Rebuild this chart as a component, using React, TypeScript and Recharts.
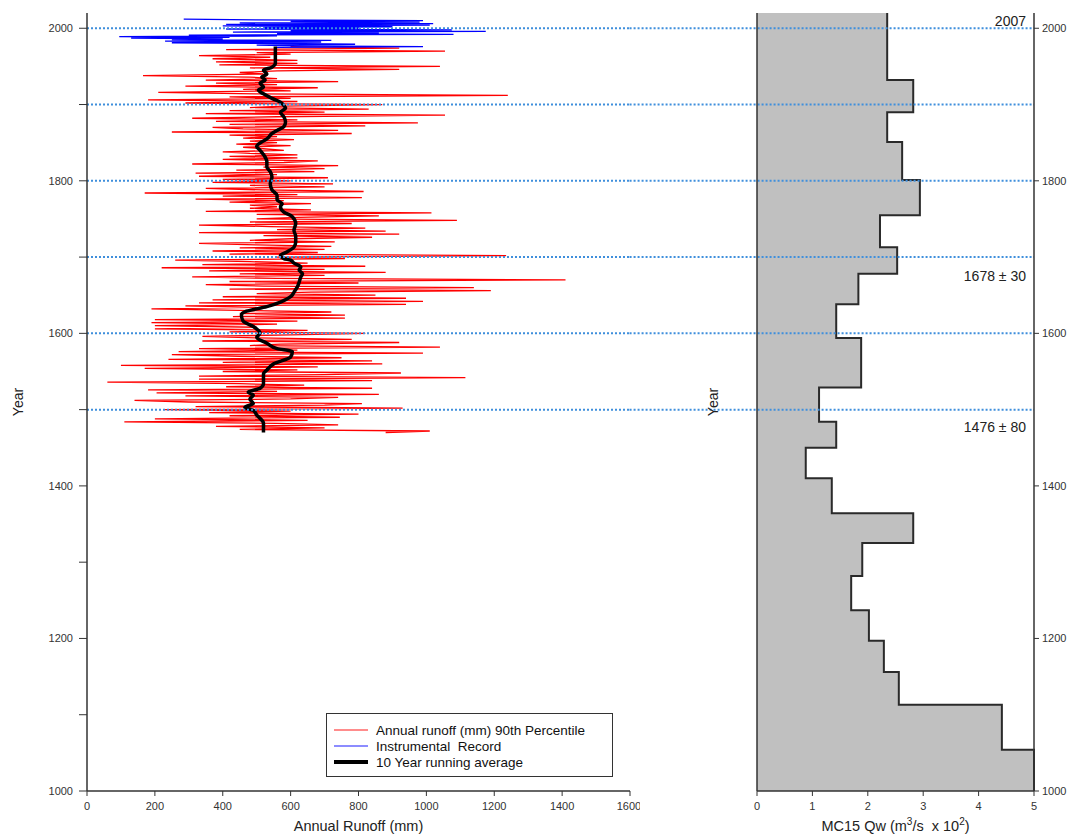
import {
    Area,
    ComposedChart,
    Legend,
    Line,
    ReferenceDot,
    ReferenceLine,
    XAxis,
    YAxis,
} from 'recharts'

const FONT = 'Arial, "Liberation Sans", Helvetica, sans-serif'
const AXIS = '#333'
const DOTTED = '#3f8fdc'

// annual runoff (mm), 90th percentile reconstruction, every 2nd year from 1470
const RED_START = 1470
const redRunoff = [
    880, 1010, 450, 700, 380, 740, 560, 110, 650, 200,
    745, 420, 800, 360, 600, 230, 930, 320, 700, 810,
    300, 140, 600, 740, 290, 860, 205, 560, 180, 840,
    410, 640, 450, 60, 840, 330, 1115, 330, 700, 925,
    400, 620, 170, 680, 100, 870, 400, 840, 240, 750,
    450, 250, 990, 270, 620, 330, 1040, 480, 570, 920,
    340, 780, 500, 340, 600,
    820, 420, 650, 200, 500, 200, 560, 190, 620, 200,
    760, 430, 760, 450, 720, 450, 190, 500, 290, 940,
    330, 990, 370, 940, 400, 850, 500, 660, 1190, 420,
    1140, 520, 350, 800, 420, 1410, 560, 310, 700, 450,
    880, 360, 700, 220, 820, 340, 650, 480, 260, 760,
    560, 1235, 420, 680, 370, 700, 450, 720, 500, 330,
    730, 480, 600, 840, 520,
    920, 330, 880, 560, 820, 540, 330, 780, 480, 1090,
    500, 620, 860, 500, 1015, 350, 660, 480, 560, 480,
    660, 420, 580, 320, 810, 400, 620, 170, 815, 520,
    350, 700, 480, 725, 370, 600, 400, 710, 330, 560,
    320, 670, 440, 700, 520, 740, 310, 580, 680, 400,
    620, 420, 620, 480, 400, 580, 520, 460, 600, 440,
    560, 480,
    610, 460, 560, 420, 780, 250, 740, 460, 370, 820,
    420, 975, 380, 620, 310, 560, 1055, 350, 700, 420,
    830, 480, 580, 870, 290, 620, 180, 600, 420, 1240,
    500, 210, 600, 460, 680, 290, 560, 380, 740, 350,
    560, 480, 165, 520, 450, 560, 920, 480, 1040, 390,
    620, 380, 620, 370, 540, 330, 600, 500, 1055, 410,
    920, 600,
]

// instrumental record, yearly from 1975
const BLUE_START = 1975
const blueRunoff = [
    560, 990, 620, 500, 790, 560, 250, 690, 230, 720,
    250, 400, 130, 420, 95, 560, 300, 1080, 560, 860,
    430, 1175, 600, 1075, 410, 800, 520, 900, 400, 1010,
    410, 1020, 450, 980, 600, 990, 500, 285,
]

// 10 year running average
const avgYears = [
    1470, 1482, 1493, 1499, 1503, 1508, 1514, 1519, 1523, 1528,
    1534, 1547, 1552, 1560, 1569, 1576, 1580, 1587, 1595, 1600,
    1609, 1616, 1624, 1629, 1635, 1641, 1648, 1654, 1661, 1667,
    1674, 1678, 1683, 1687, 1692, 1696, 1698, 1702, 1707, 1713,
    1720, 1727, 1735, 1744, 1753, 1759, 1766, 1770, 1775, 1781,
    1788, 1796, 1805, 1812, 1818, 1825, 1831, 1840, 1845, 1851,
    1855, 1862, 1866, 1871, 1877, 1884, 1890, 1895, 1899, 1903,
    1908, 1914, 1919, 1923, 1928, 1932, 1936, 1940, 1945, 1949,
    1954, 1958, 1965, 1976,
]
const avgRunoff = [
    520, 520, 500, 490, 465, 490, 480, 490, 475, 510,
    520, 520, 530, 550, 600, 605, 560, 530, 500, 510,
    490, 460, 455, 470, 530, 570, 600, 610, 620, 625,
    630, 635, 625, 630, 610, 600, 580, 570, 590, 610,
    615, 615, 610, 615, 605, 580, 570, 575, 560, 560,
    545, 540, 545, 540, 530, 530, 525, 510, 500, 515,
    530, 545, 560, 580, 585, 580, 570, 585, 580, 570,
    545, 520, 505, 520, 510, 525, 515, 530, 520, 545,
    555, 555, 555, 555,
]

// MC15 water discharge (m3/s x 10^2), value holds from the given year upward
const qwYears = [
    1000, 1054, 1113, 1156, 1197, 1237, 1282, 1325, 1364, 1410, 1450, 1484,
    1529, 1594, 1638, 1678, 1713, 1755, 1801, 1851, 1890, 1932, 2020,
]
const qwValues = [
    5.0, 4.42, 2.56, 2.29, 2.02, 1.7, 1.9, 2.82, 1.35, 0.88, 1.43, 1.12,
    1.88, 1.43, 1.83, 2.53, 2.22, 2.94, 2.62, 2.35, 2.82, 2.35, 2.35,
]

const yearTicks = [1000, 1100, 1200, 1300, 1400, 1500, 1600, 1700, 1800, 1900, 2000]
const yearLabelTicks = [1000, 1200, 1400, 1600, 1800, 2000]
const runoffTicks = [0, 200, 400, 600, 800, 1000, 1200, 1400, 1600]
const qwTicks = [0, 1, 2, 3, 4, 5]
const dottedYears = [1500, 1600, 1700, 1800, 1900, 2000]
const noteTexts = ['2007', '1678 \u00b1 30', '1476 \u00b1 80']
const noteYears = [2010, 1675, 1477]

const legendItems = [
    { label: 'Annual runoff (mm) 90th Percentile', color: '#ff8c8c', width: 2 },
    { label: 'Instrumental  Record', color: '#8c8cff', width: 2 },
    { label: '10 Year running average', color: '#000', width: 4 },
]

type Row = { year: number; red?: number; blue?: number; avg?: number }

function buildRunoffRows(): Row[] {
    const rows = new Map<number, Row>()
    const put = (year: number, key: 'red' | 'blue' | 'avg', v: number) => {
        const r = rows.get(year) ?? { year }
        r[key] = v
        rows.set(year, r)
    }
    redRunoff.forEach((v, i) => put(RED_START + 2 * i, 'red', v))
    blueRunoff.forEach((v, i) => put(BLUE_START + i, 'blue', v))
    avgYears.forEach((y, i) => put(y, 'avg', avgRunoff[i]))
    return [...rows.values()].sort((a, b) => a.year - b.year)
}

const runoffRows = buildRunoffRows()
const qwRows = qwYears.map((year, i) => ({ year, qw: qwValues[i] }))

const tickStyle = { fontSize: 11, fill: '#333', fontFamily: FONT }

function yearTitle(dist: number) {
    return (props: any) => {
        const vb = props.viewBox
        const cx = vb.x + vb.width - dist
        const cy = vb.y + vb.height / 2
        return (
            <text
                x={cx}
                y={cy}
                transform={`rotate(-90 ${cx} ${cy})`}
                textAnchor="middle"
                dominantBaseline="central"
                fontSize={14}
                fontFamily={FONT}
                fill="#222"
            >
                Year
            </text>
        )
    }
}

function RunoffLegend() {
    return (
        <div
            style={{
                border: '1px solid #333',
                background: '#fff',
                padding: '8px 0 6px 0',
                fontFamily: FONT,
                fontSize: 13.5,
                color: '#111',
                boxSizing: 'border-box',
            }}
        >
            {legendItems.map((item) => (
                <div key={item.label} style={{ display: 'flex', alignItems: 'center', height: 16 }}>
                    <span
                        style={{
                            display: 'inline-block',
                            width: 34,
                            height: item.width,
                            background: item.color,
                            marginLeft: 7,
                            marginRight: 8,
                        }}
                    />
                    <span style={{ whiteSpace: 'pre' }}>{item.label}</span>
                </div>
            ))}
        </div>
    )
}

function RunoffChart() {
    return (
        <ComposedChart
            width={640}
            height={836}
            data={runoffRows}
            layout="vertical"
            margin={{ top: 13, right: 10, bottom: 0, left: 27 }}
        >
            <XAxis
                type="number"
                domain={[0, 1600]}
                ticks={runoffTicks}
                height={45}
                tickSize={5}
                tickMargin={6}
                tick={tickStyle}
                axisLine={{ stroke: AXIS, strokeWidth: 1.5 }}
                tickLine={{ stroke: AXIS }}
                label={{
                    content: (props: any) => (
                        <text
                            x={props.viewBox.x + props.viewBox.width / 2}
                            y={props.viewBox.y + 40}
                            textAnchor="middle"
                            fontSize={14.5}
                            fontFamily={FONT}
                            fill="#222"
                        >
                            Annual Runoff (mm)
                        </text>
                    ),
                }}
            />
            <XAxis
                xAxisId="top"
                orientation="top"
                type="number"
                domain={[0, 1600]}
                height={0}
                tick={false}
                tickLine={false}
                axisLine={{ stroke: AXIS, strokeWidth: 1.5 }}
            />
            <YAxis
                type="number"
                dataKey="year"
                domain={[1000, 2020]}
                reversed
                allowDataOverflow
                ticks={yearTicks}
                tickFormatter={(v: number) => (yearLabelTicks.includes(v) ? String(v) : '')}
                width={60}
                tickSize={8}
                tickMargin={6}
                tick={tickStyle}
                axisLine={{ stroke: AXIS, strokeWidth: 1.5 }}
                tickLine={{ stroke: AXIS }}
                label={{ content: yearTitle(69) }}
            />
            <YAxis
                yAxisId="frame"
                orientation="right"
                type="number"
                dataKey="year"
                domain={[1000, 2020]}
                reversed
                allowDataOverflow
                ticks={yearTicks}
                width={0}
                tickSize={4}
                tick={false}
                axisLine={{ stroke: AXIS, strokeWidth: 1.5 }}
                tickLine={{ stroke: AXIS }}
            />
            <Line
                dataKey="red"
                stroke="#ff0000"
                strokeWidth={1.3}
                dot={false}
                connectNulls
                isAnimationActive={false}
            />
            <Line
                dataKey="blue"
                stroke="#0000ff"
                strokeWidth={1.3}
                dot={false}
                connectNulls
                isAnimationActive={false}
            />
            <Line
                dataKey="avg"
                type="monotone"
                stroke="#000"
                strokeWidth={3.5}
                dot={false}
                connectNulls
                isAnimationActive={false}
            />
            {dottedYears.map((y) => (
                <ReferenceLine key={y} y={y} stroke={DOTTED} strokeWidth={2} strokeDasharray="2 2" />
            ))}
            <Legend
                layout="vertical"
                align="center"
                verticalAlign="middle"
                content={() => <RunoffLegend />}
                wrapperStyle={{ left: 326, top: 713, width: 287, height: 65 }}
            />
        </ComposedChart>
    )
}

function DischargeChart() {
    return (
        <ComposedChart
            width={444}
            height={836}
            data={qwRows}
            layout="vertical"
            margin={{ top: 13, right: 0, bottom: 0, left: 72 }}
        >
            <XAxis
                type="number"
                domain={[0, 5]}
                ticks={qwTicks}
                height={45}
                tickSize={5}
                tickMargin={6}
                tick={tickStyle}
                axisLine={{ stroke: AXIS, strokeWidth: 1.5 }}
                tickLine={{ stroke: AXIS }}
                label={{
                    content: (props: any) => (
                        <text
                            x={props.viewBox.x + props.viewBox.width / 2}
                            y={props.viewBox.y + 40}
                            textAnchor="middle"
                            fontSize={14.5}
                            fontFamily={FONT}
                            fill="#222"
                            style={{ whiteSpace: 'pre' }}
                        >
                            MC15 Qw (m
                            <tspan dy={-6} fontSize={10}>3</tspan>
                            <tspan dy={6}>/s  x 10</tspan>
                            <tspan dy={-6} fontSize={10}>2</tspan>
                            <tspan dy={6}>)</tspan>
                        </text>
                    ),
                }}
            />
            <XAxis
                xAxisId="top"
                orientation="top"
                type="number"
                domain={[0, 5]}
                height={0}
                tick={false}
                tickLine={false}
                axisLine={{ stroke: AXIS, strokeWidth: 1.5 }}
            />
            <YAxis
                type="number"
                dataKey="year"
                domain={[1000, 2020]}
                reversed
                allowDataOverflow
                ticks={yearTicks}
                width={60}
                tickSize={5}
                tick={false}
                axisLine={{ stroke: AXIS, strokeWidth: 1.5 }}
                tickLine={{ stroke: AXIS }}
                label={{ content: yearTitle(44) }}
            />
            <YAxis
                yAxisId="right"
                orientation="right"
                type="number"
                dataKey="year"
                domain={[1000, 2020]}
                reversed
                allowDataOverflow
                ticks={yearLabelTicks}
                width={35}
                tickSize={5}
                tickMargin={3}
                tick={tickStyle}
                axisLine={{ stroke: AXIS, strokeWidth: 1.5 }}
                tickLine={{ stroke: AXIS }}
            />
            <Area
                dataKey="qw"
                type="stepBefore"
                fill="#c0c0c0"
                fillOpacity={1}
                stroke="#2a2a2a"
                strokeWidth={2}
                dot={false}
                activeDot={false}
                isAnimationActive={false}
            />
            {dottedYears.map((y) => (
                <ReferenceLine
                    key={y}
                    segment={[{ x: -2.3, y }, { x: 5, y }]}
                    ifOverflow="visible"
                    stroke={DOTTED}
                    strokeWidth={2}
                    strokeDasharray="2 2"
                />
            ))}
            {noteTexts.map((t, i) => (
                <ReferenceDot
                    key={t}
                    x={5}
                    y={noteYears[i]}
                    r={0}
                    fill="none"
                    stroke="none"
                    label={{ value: t, position: 'left', offset: 8, fontSize: 14, fill: '#222', fontFamily: FONT }}
                />
            ))}
        </ComposedChart>
    )
}

export default function App() {
    return (
        <div
            style={{
                position: 'absolute',
                left: 0,
                top: 0,
                width: 1069,
                height: 836,
                background: '#fff',
                overflow: 'hidden',
            }}
        >
            <div style={{ position: 'absolute', left: 0, top: 0 }}>
                <RunoffChart />
            </div>
            <div style={{ position: 'absolute', left: 625, top: 0 }}>
                <DischargeChart />
            </div>
        </div>
    )
}
